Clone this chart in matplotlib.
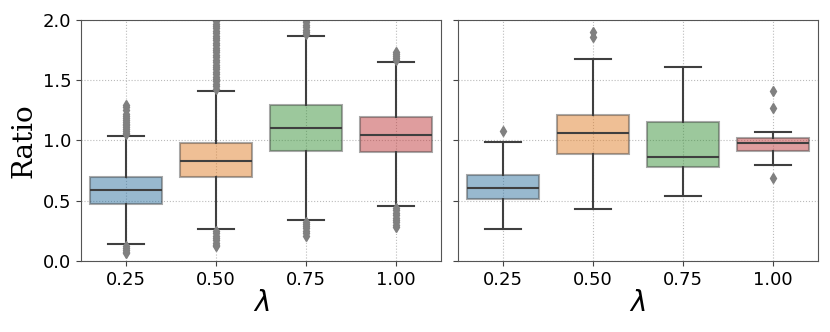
import colorsys
import numpy as np
import matplotlib
matplotlib.use("Agg")
import matplotlib.pyplot as plt

# categories (lambda values)
lambdas = ["0.25", "0.50", "0.75", "1.00"]

# left panel box stats
left_q1 = [0.475, 0.695, 0.91, 0.90]
left_med = [0.587, 0.833, 1.10, 1.048]
left_q3 = [0.70, 0.98, 1.292, 1.198]
left_lo = [0.138, 0.263, 0.34, 0.454]
left_hi = [1.04, 1.413, 1.87, 1.649]
left_fliers = [
    [1.05, 1.065, 1.08, 1.095, 1.11, 1.125, 1.14, 1.155, 1.17, 1.185, 1.20, 1.22, 1.25, 1.28, 1.29,
     0.12, 0.105, 0.09, 0.075, 0.065],
    [1.43, 1.45, 1.47, 1.49, 1.51, 1.53, 1.55, 1.57, 1.59, 1.61, 1.63, 1.65, 1.67, 1.69, 1.71,
     1.73, 1.75, 1.77, 1.79, 1.81, 1.83, 1.85, 1.87, 1.89, 1.91, 1.93, 1.95, 1.97, 1.99, 2.01,
     0.25, 0.23, 0.21, 0.19, 0.17, 0.15, 0.13, 0.12],
    [1.885, 1.90, 1.92, 1.94, 1.96, 1.98, 2.00, 2.02,
     0.325, 0.31, 0.29, 0.27, 0.25, 0.23, 0.21],
    [1.665, 1.68, 1.70, 1.72, 1.735,
     0.44, 0.42, 0.40, 0.38, 0.36, 0.34, 0.32, 0.30, 0.285],
]

# right panel box stats
right_q1 = [0.515, 0.888, 0.778, 0.915]
right_med = [0.606, 1.065, 0.866, 0.982]
right_q3 = [0.714, 1.209, 1.154, 1.023]
right_lo = [0.266, 0.429, 0.539, 0.80]
right_hi = [0.988, 1.674, 1.607, 1.073]
right_fliers = [
    [1.076],
    [1.86, 1.90],
    [],
    [1.411, 1.272, 0.691],
]

colors = ["#1f77b4", "#ff7f0e", "#2ca02c", "#d62728"]


def desaturate(c, prop=0.75):
    r, g, b = matplotlib.colors.to_rgb(c)
    h, l, s = colorsys.rgb_to_hls(r, g, b)
    return colorsys.hls_to_rgb(h, l, s * prop)


def make_stats(q1, med, q3, lo, hi, fliers):
    stats = []
    for i in range(len(q1)):
        stats.append(dict(q1=q1[i], med=med[i], q3=q3[i], whislo=lo[i],
                          whishi=hi[i], fliers=fliers[i]))
    return stats


def draw_panel(ax, stats):
    line_col = "#3f3f3f"
    bp = ax.bxp(stats, positions=np.arange(len(stats)), widths=0.8,
                patch_artist=True, showfliers=True,
                boxprops=dict(linewidth=1.5),
                medianprops=dict(color=line_col, linewidth=1.5),
                whiskerprops=dict(color=line_col, linewidth=1.5),
                capprops=dict(color=line_col, linewidth=1.5),
                flierprops=dict(marker="d", markerfacecolor="gray",
                                markeredgecolor="gray", markersize=5),
                capwidths=0.4)
    for patch, c in zip(bp["boxes"], colors):
        patch.set_facecolor((*desaturate(c), 0.5))
        patch.set_edgecolor((0.25, 0.25, 0.25, 0.45))
    ax.set_xlim(-0.5, len(stats) - 0.5)
    ax.set_ylim(0, 2.0)
    ax.set_xticks(np.arange(len(stats)))
    ax.set_xticklabels(lambdas)
    ax.set_yticks([0, 0.5, 1.0, 1.5, 2.0])
    ax.grid(True, linestyle=":", color="#bbbbbb", linewidth=0.8)
    ax.set_axisbelow(True)
    ax.tick_params(labelsize=13, color="#444444")
    for s in ax.spines.values():
        s.set_color("#555555")
    ax.set_xlabel(r"$\lambda$", fontsize=20, labelpad=0)


fig = plt.figure(figsize=(8.3, 3.32), dpi=100)
ax1 = fig.add_axes([0.0976, 0.214, 0.4337, 0.726])
ax2 = fig.add_axes([0.5515, 0.214, 0.4337, 0.726], sharey=ax1)

draw_panel(ax1, make_stats(left_q1, left_med, left_q3, left_lo, left_hi, left_fliers))
draw_panel(ax2, make_stats(right_q1, right_med, right_q3, right_lo, right_hi, right_fliers))
ax2.tick_params(labelleft=False)
ax1.set_ylabel("Ratio", fontsize=20, family="DejaVu Serif")

fig.savefig("out.png", dpi=100)
